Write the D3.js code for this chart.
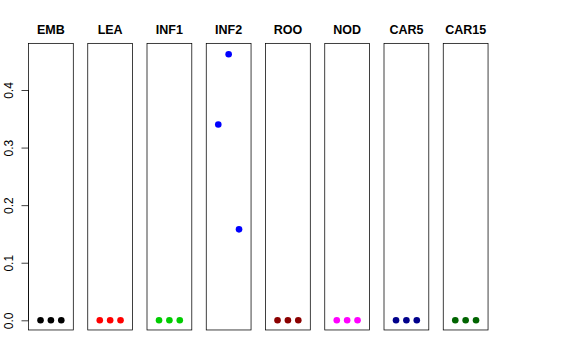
<!DOCTYPE html>
<html>
<head>
<meta charset="utf-8">
<script src="https://cdn.jsdelivr.net/npm/d3@7"></script>
<style>
  body { margin: 0; background: #fff; }
  text { font-family: "Liberation Sans", Arial, sans-serif; }
  .title { font-weight: bold; font-size: 12.5px; }
  .tick-label { font-size: 12px; }
</style>
</head>
<body>
<svg width="576" height="360"></svg>
<script>
// panel names, point colours and values (3 points per panel)
var panels = ['EMB', 'LEA', 'INF1', 'INF2', 'ROO', 'NOD', 'CAR5', 'CAR15'];
var panelColors = ['#000000', '#FF0000', '#00CD00', '#0000FF', '#8B0000', '#FF00FF', '#00008B', '#006400'];
var values = [
    [0, 0, 0],
    [0, 0, 0],
    [0, 0, 0],
    [0.340, 0.462, 0.158],
    [0, 0, 0],
    [0, 0, 0],
    [0, 0, 0],
    [0, 0, 0]
];
var yTicks = [0, 0.1, 0.2, 0.3, 0.4];
var yTickLabels = ['0.0', '0.1', '0.2', '0.3', '0.4'];

var svg = d3.select('svg');

// layout
var firstLeft = 28.5, step = 59.25, panelWidth = 44.8;

// shared y scale
var yScale = d3.scaleLinear()
    .domain([0, 0.4])
    .range([320.3, 90]);
var boxTop = yScale(0.481), boxBottom = yScale(-0.0168);

panels.forEach(function(name, i) {
    var left = firstLeft + i * step;
    var xScale = d3.scaleLinear()
        .domain([-0.16, 4.16])
        .range([left, left + panelWidth]);

    var g = svg.append('g').attr('class', 'panel');

    g.append('rect')
        .attr('x', left)
        .attr('y', boxTop)
        .attr('width', panelWidth)
        .attr('height', boxBottom - boxTop)
        .style('fill', 'none')
        .style('stroke', '#000')
        .style('stroke-width', 0.75);

    g.append('text')
        .attr('class', 'title')
        .attr('x', left + panelWidth / 2)
        .attr('y', 34)
        .attr('text-anchor', 'middle')
        .text(name);

    g.selectAll('circle')
        .data(values[i])
        .enter()
        .append('circle')
        .attr('cx', function(d, j) { return xScale(j + 1); })
        .attr('cy', function(d) { return yScale(d); })
        .attr('r', 3.3)
        .style('fill', panelColors[i]);
});

// y axis on the first panel
var yAxis = d3.axisLeft(yScale)
    .tickValues(yTicks)
    .tickSize(7)
    .tickFormat(function(d, i) { return yTickLabels[i]; });

var axisG = svg.append('g')
    .attr('transform', 'translate(' + firstLeft + ',0)')
    .call(yAxis);

axisG.selectAll('path, line')
    .style('stroke', '#000')
    .style('stroke-width', 0.75);
axisG.select('.domain').attr('d', 'M0,' + yScale(0) + 'V' + yScale(0.4));

axisG.selectAll('.tick text')
    .attr('class', 'tick-label')
    .attr('x', null)
    .attr('dy', null)
    .style('font-size', '12px')
    .style('fill', '#000')
    .attr('text-anchor', 'middle')
    .attr('transform', 'translate(-16,0) rotate(-90)');
</script>
</body>
</html>
